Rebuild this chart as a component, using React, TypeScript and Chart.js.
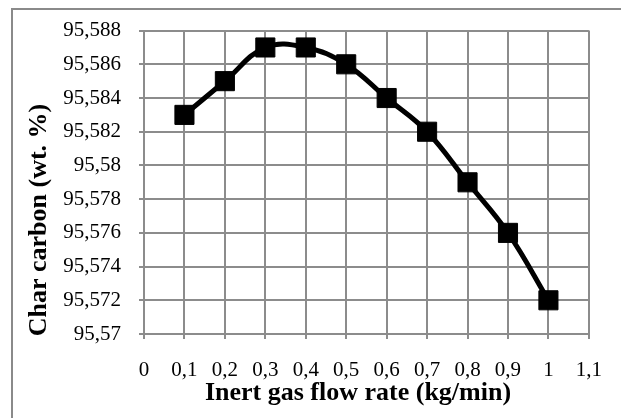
import React, { useEffect, useRef } from "react";
import { Chart, registerables } from "chart.js";

Chart.register(...registerables);

// Inert gas flow rate (kg/min) and resulting char carbon content (wt. %)
const flowRates = [0.1, 0.2, 0.3, 0.4, 0.5, 0.6, 0.7, 0.8, 0.9, 1.0];
const charCarbon = [95.583, 95.585, 95.587, 95.587, 95.586, 95.584, 95.582, 95.579, 95.576, 95.572];

const xTicks = [0, 0.1, 0.2, 0.3, 0.4, 0.5, 0.6, 0.7, 0.8, 0.9, 1.0, 1.1];
const yTicks = [95.57, 95.572, 95.574, 95.576, 95.578, 95.58, 95.582, 95.584, 95.586, 95.588];

const xTitle = "Inert gas flow rate (kg/min)";
const yTitle = "Char carbon (wt. %)";

const SERIF = "'Liberation Serif', 'Times New Roman', serif";
const GRID = "#8c8c8c";

const commaNum = (v: number) => String(Number(v.toFixed(3))).replace(".", ",");

// Frame around the chart and the two axis titles
const decorations = {
  id: "decorations",
  afterDraw(chart: any) {
    const ctx = chart.ctx as CanvasRenderingContext2D;
    ctx.save();
    ctx.strokeStyle = "#8a8a8a";
    ctx.lineWidth = 2;
    ctx.strokeRect(12, 9, 700, 500);

    ctx.fillStyle = "#000";
    ctx.font = `bold 26px ${SERIF}`;
    ctx.textAlign = "center";
    ctx.textBaseline = "middle";
    ctx.fillText(xTitle, 358, 393);

    ctx.translate(39, 220);
    ctx.rotate(-Math.PI / 2);
    ctx.fillText(yTitle, 0, 0);
    ctx.restore();
  },
};

export default function App() {
  const canvasRef = useRef<HTMLCanvasElement>(null);

  useEffect(() => {
    if (!canvasRef.current) return;
    const chart = new Chart(canvasRef.current, {
      type: "scatter",
      data: {
        datasets: [
          {
            data: flowRates.map((x, i) => ({ x, y: charCarbon[i] })),
            showLine: true,
            borderColor: "#000",
            backgroundColor: "#000",
            borderWidth: 5,
            tension: 0.4,
            pointStyle: "rect",
            pointRadius: 13.5,
            pointHoverRadius: 13.5,
            pointBorderWidth: 1,
            pointBorderColor: "#000",
            pointBackgroundColor: "#000",
          },
        ],
      },
      options: {
        animation: false,
        responsive: false,
        layout: { padding: { top: 29, right: 19, bottom: 0, left: 0 } },
        plugins: { legend: { display: false }, tooltip: { enabled: false } },
        scales: {
          x: {
            type: "linear",
            min: 0,
            max: 1.1,
            afterFit: (s: any) => {
              s.height = 84;
            },
            afterBuildTicks: (s: any) => {
              s.ticks = xTicks.map((value) => ({ value }));
            },
            ticks: {
              color: "#000",
              font: { family: SERIF, size: 21 },
              padding: 19,
              maxRotation: 0,
              autoSkip: false,
              callback: (v: any) => commaNum(Number(v)),
            },
            grid: { color: GRID, lineWidth: 2, tickLength: 5, drawTicks: true },
            border: { color: GRID, width: 2 },
          },
          y: {
            type: "linear",
            min: 95.57,
            max: 95.588,
            afterFit: (s: any) => {
              s.width = 144;
            },
            afterBuildTicks: (s: any) => {
              s.ticks = yTicks.map((value) => ({ value }));
            },
            ticks: {
              color: "#000",
              font: { family: SERIF, size: 21 },
              padding: 18,
              autoSkip: false,
              callback: (v: any) => commaNum(Number(v)),
            },
            grid: { color: GRID, lineWidth: 2, tickLength: 5, drawTicks: true },
            border: { color: GRID, width: 2 },
          },
        },
      },
      plugins: [decorations],
    });
    return () => chart.destroy();
  }, []);

  return (
    <div style={{ position: "fixed", left: 0, top: 0, width: 621, height: 418, background: "#fff" }}>
      <canvas ref={canvasRef} width={621} height={418} />
    </div>
  );
}
